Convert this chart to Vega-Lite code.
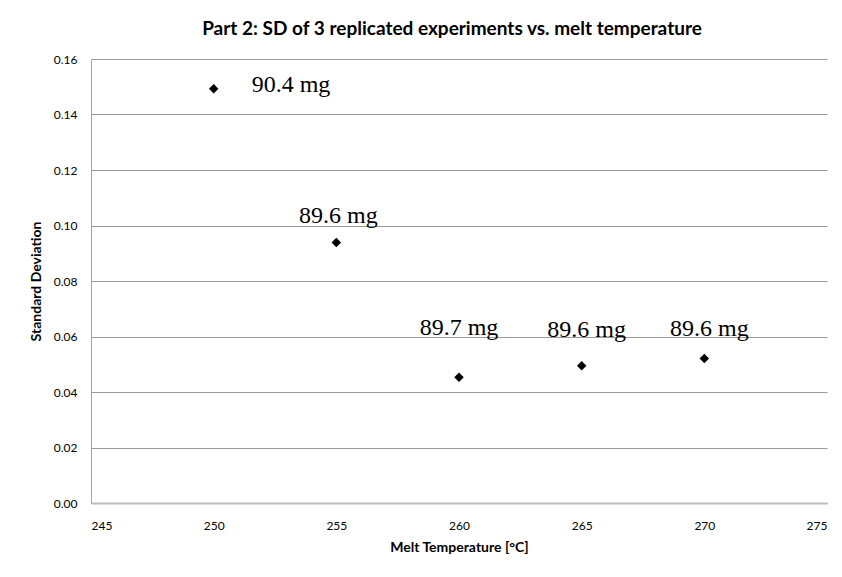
{
  "$schema": "https://vega.github.io/schema/vega-lite/v6.json",
  "width": 736,
  "height": 444,
  "padding": {"left": 91, "top": 59, "right": 15, "bottom": 74},
  "autosize": {"type": "none"},
  "background": "white",
  "config": {
    "view": {"stroke": null},
    "font": "Lato"
  },
  "title": {
    "text": "Part 2: SD of 3 replicated experiments vs. melt temperature",
    "font": "Lato",
    "fontSize": 19,
    "fontWeight": "bold",
    "color": "#000000",
    "offset": 14,
    "dx": -7
  },
  "data": {
    "values": [
      {"temp": 250, "sd": 0.1493, "label": "90.4 mg"},
      {"temp": 255, "sd": 0.0939, "label": "89.6 mg"},
      {"temp": 260, "sd": 0.0453, "label": "89.7 mg"},
      {"temp": 265, "sd": 0.0495, "label": "89.6 mg"},
      {"temp": 270, "sd": 0.0521, "label": "89.6 mg"}
    ]
  },
  "encoding": {
    "x": {
      "field": "temp",
      "type": "quantitative",
      "scale": {"domain": [245, 275], "nice": false, "zero": false},
      "axis": {
        "title": "Melt Temperature [°C]",
        "values": [245, 250, 255, 260, 265, 270, 275],
        "grid": false,
        "ticks": false,
        "domainColor": "#bfbfbf",
        "domainWidth": 2,
        "labelFont": "Lato",
        "labelFontSize": 12,
        "labelColor": "#000000",
        "labelPadding": 17,
        "titleFont": "Lato",
        "titleFontSize": 14,
        "titleFontWeight": "bold",
        "titleColor": "#000000",
        "titlePadding": 9
      }
    },
    "y": {
      "field": "sd",
      "type": "quantitative",
      "scale": {"domain": [0, 0.16], "nice": false},
      "axis": {
        "title": "Standard Deviation",
        "values": [0, 0.02, 0.04, 0.06, 0.08, 0.1, 0.12, 0.14, 0.16],
        "format": ".2f",
        "grid": true,
        "gridColor": "#999999",
        "gridWidth": 1,
        "ticks": false,
        "domainColor": "#a6a6a6",
        "domainWidth": 1,
        "labelFont": "Lato",
        "labelFontSize": 12,
        "labelColor": "#000000",
        "labelPadding": 14,
        "titleFont": "Lato",
        "titleFontSize": 14,
        "titleFontWeight": "bold",
        "titleColor": "#000000",
        "titlePadding": 10
      }
    }
  },
  "layer": [
    {
      "mark": {"type": "point", "shape": "diamond", "filled": true, "color": "#000000", "size": 90, "opacity": 1}
    },
    {
      "transform": [{"filter": "datum.temp == 250"}],
      "mark": {"type": "text", "font": "Liberation Serif", "fontSize": 24, "align": "left", "baseline": "alphabetic", "dx": 38, "dy": 3, "color": "#000000"},
      "encoding": {"text": {"field": "label"}}
    },
    {
      "transform": [{"filter": "datum.temp == 255"}],
      "mark": {"type": "text", "font": "Liberation Serif", "fontSize": 24, "align": "center", "baseline": "alphabetic", "dx": 2, "dy": -19, "color": "#000000"},
      "encoding": {"text": {"field": "label"}}
    },
    {
      "transform": [{"filter": "datum.temp == 260"}],
      "mark": {"type": "text", "font": "Liberation Serif", "fontSize": 24, "align": "center", "baseline": "alphabetic", "dx": 0, "dy": -42, "color": "#000000"},
      "encoding": {"text": {"field": "label"}}
    },
    {
      "transform": [{"filter": "datum.temp == 265"}],
      "mark": {"type": "text", "font": "Liberation Serif", "fontSize": 24, "align": "center", "baseline": "alphabetic", "dx": 5, "dy": -29, "color": "#000000"},
      "encoding": {"text": {"field": "label"}}
    },
    {
      "transform": [{"filter": "datum.temp == 270"}],
      "mark": {"type": "text", "font": "Liberation Serif", "fontSize": 24, "align": "center", "baseline": "alphabetic", "dx": 5, "dy": -22, "color": "#000000"},
      "encoding": {"text": {"field": "label"}}
    }
  ]
}
